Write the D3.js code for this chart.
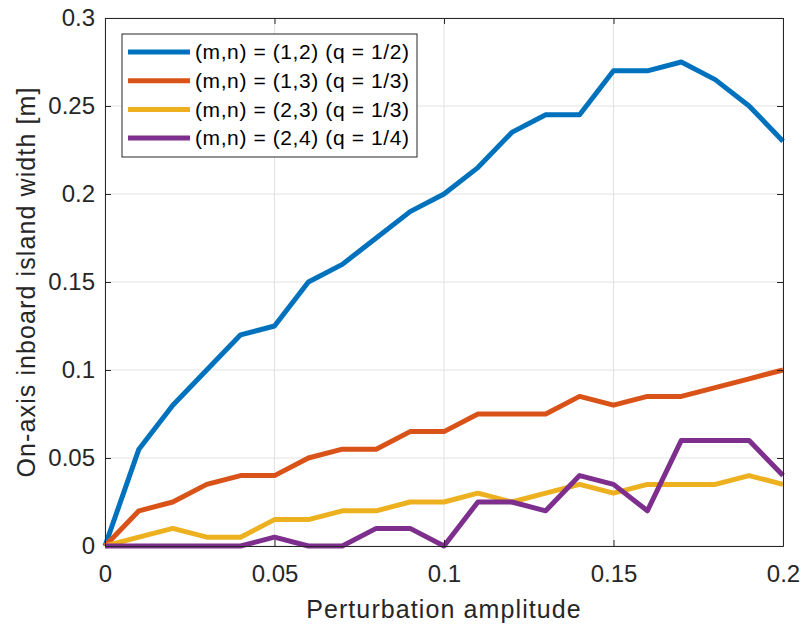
<!DOCTYPE html>
<html>
<head>
<meta charset="utf-8">
<script src="https://cdn.jsdelivr.net/npm/d3@7"></script>
<style>
  body { margin: 0; background: #fff; }
  svg { font-family: "Liberation Sans", Arial, sans-serif; }
</style>
</head>
<body>
<div id="chart"></div>
<script>
// perturbation amplitudes (x)
const amplitudes = d3.range(0, 21).map(i => i / 100);

const seriesNames = [
  "(m,n) = (1,2) (q = 1/2)",
  "(m,n) = (1,3) (q = 1/3)",
  "(m,n) = (2,3) (q = 1/3)",
  "(m,n) = (2,4) (q = 1/4)"
];
const seriesColors = ["#0072BD", "#D95319", "#EDB120", "#7E2F8E"];

const width12 = [0, 0.055, 0.08, 0.1, 0.12, 0.125, 0.15, 0.16, 0.175, 0.19, 0.2,
  0.215, 0.235, 0.245, 0.245, 0.27, 0.27, 0.275, 0.265, 0.25, 0.23];
const width13 = [0, 0.02, 0.025, 0.035, 0.04, 0.04, 0.05, 0.055, 0.055, 0.065, 0.065,
  0.075, 0.075, 0.075, 0.085, 0.08, 0.085, 0.085, 0.09, 0.095, 0.1];
const width23 = [0, 0.005, 0.01, 0.005, 0.005, 0.015, 0.015, 0.02, 0.02, 0.025, 0.025,
  0.03, 0.025, 0.03, 0.035, 0.03, 0.035, 0.035, 0.035, 0.04, 0.035];
const width24 = [0, 0, 0, 0, 0, 0.005, 0, 0, 0.01, 0.01, 0,
  0.025, 0.025, 0.02, 0.04, 0.035, 0.02, 0.06, 0.06, 0.06, 0.04];

const xTicks = [0, 0.05, 0.1, 0.15, 0.2];
const yTicks = [0, 0.05, 0.1, 0.15, 0.2, 0.25, 0.3];

const allSeries = [width12, width13, width23, width24];

const W = 804, H = 627;
const margin = { top: 18, right: 21, bottom: 81, left: 105 };

const svg = d3.select("#chart").append("svg")
  .attr("width", W).attr("height", H);

const x = d3.scaleLinear().domain([0, 0.2]).range([margin.left, W - margin.right]);
const y = d3.scaleLinear().domain([0, 0.3]).range([H - margin.bottom, margin.top]);

const textColor = "#262626";
const fontFam = "'Liberation Sans', Arial, sans-serif";

// grid
svg.append("g").selectAll("line.gx").data(xTicks).join("line")
  .attr("x1", d => x(d)).attr("x2", d => x(d))
  .attr("y1", y(0)).attr("y2", y(0.3))
  .attr("stroke", "#e2e2e2").attr("stroke-width", 1);
svg.append("g").selectAll("line.gy").data(yTicks).join("line")
  .attr("x1", x(0)).attr("x2", x(0.2))
  .attr("y1", d => y(d)).attr("y2", d => y(d))
  .attr("stroke", "#e2e2e2").attr("stroke-width", 1);

// lines
const line = d3.line()
  .x((d, i) => x(amplitudes[i]))
  .y(d => y(d));

svg.append("g").selectAll("path").data(allSeries).join("path")
  .attr("d", d => line(d))
  .attr("fill", "none")
  .attr("stroke", (d, i) => seriesColors[i])
  .attr("stroke-width", 5)
  .attr("stroke-linejoin", "round");

// axes (box with inward ticks on all sides)
const tickLen = 6;
const xAxis = d3.axisBottom(x).tickValues(xTicks).tickFormat(d3.format("~g"))
  .tickSizeInner(-tickLen).tickSizeOuter(0).tickPadding(19);
const yAxis = d3.axisLeft(y).tickValues(yTicks).tickFormat(d3.format("~g"))
  .tickSizeInner(-tickLen).tickSizeOuter(0).tickPadding(10);

const gx = svg.append("g").attr("transform", `translate(0,${y(0)})`).call(xAxis);
const gy = svg.append("g").attr("transform", `translate(${x(0)},0)`).call(yAxis);
svg.append("g").attr("transform", `translate(0,${y(0.3)})`)
  .call(d3.axisTop(x).tickValues(xTicks).tickFormat("").tickSizeInner(-tickLen).tickSizeOuter(0));
svg.append("g").attr("transform", `translate(${x(0.2)},0)`)
  .call(d3.axisRight(y).tickValues(yTicks).tickFormat("").tickSizeInner(-tickLen).tickSizeOuter(0));

svg.selectAll(".domain").attr("stroke", textColor).attr("stroke-width", 1);
svg.selectAll(".tick line").attr("stroke", textColor);
svg.selectAll(".tick text").attr("fill", textColor)
  .style("font-size", "24px").style("font-family", fontFam);

// axis labels
svg.append("text")
  .attr("x", (x(0) + x(0.2)) / 2).attr("y", 618)
  .attr("text-anchor", "middle")
  .attr("fill", textColor).style("font-size", "25px").style("letter-spacing", "1.1px")
  .text("Perturbation amplitude");

svg.append("text")
  .attr("transform", `translate(35,${(y(0) + y(0.3)) / 2}) rotate(-90)`)
  .attr("text-anchor", "middle")
  .attr("fill", textColor).style("font-size", "25px").style("letter-spacing", "1.1px")
  .text("On-axis inboard island width [m]");

// legend
const lg = svg.append("g").attr("transform", "translate(122,34)");
lg.append("rect")
  .attr("width", 295).attr("height", 123)
  .attr("fill", "#fff").attr("stroke", textColor).attr("stroke-width", 1);

const rows = lg.selectAll("g.row").data(seriesNames).join("g")
  .attr("transform", (d, i) => `translate(0,${18 + i * 28.7})`);
rows.append("line")
  .attr("x1", 6).attr("x2", 68)
  .attr("stroke", (d, i) => seriesColors[i]).attr("stroke-width", 5);
rows.append("text")
  .attr("x", 73).attr("dy", "0.35em")
  .attr("fill", "#000").style("font-size", "21px").style("letter-spacing", "0.6px")
  .text(d => d);
</script>
</body>
</html>
